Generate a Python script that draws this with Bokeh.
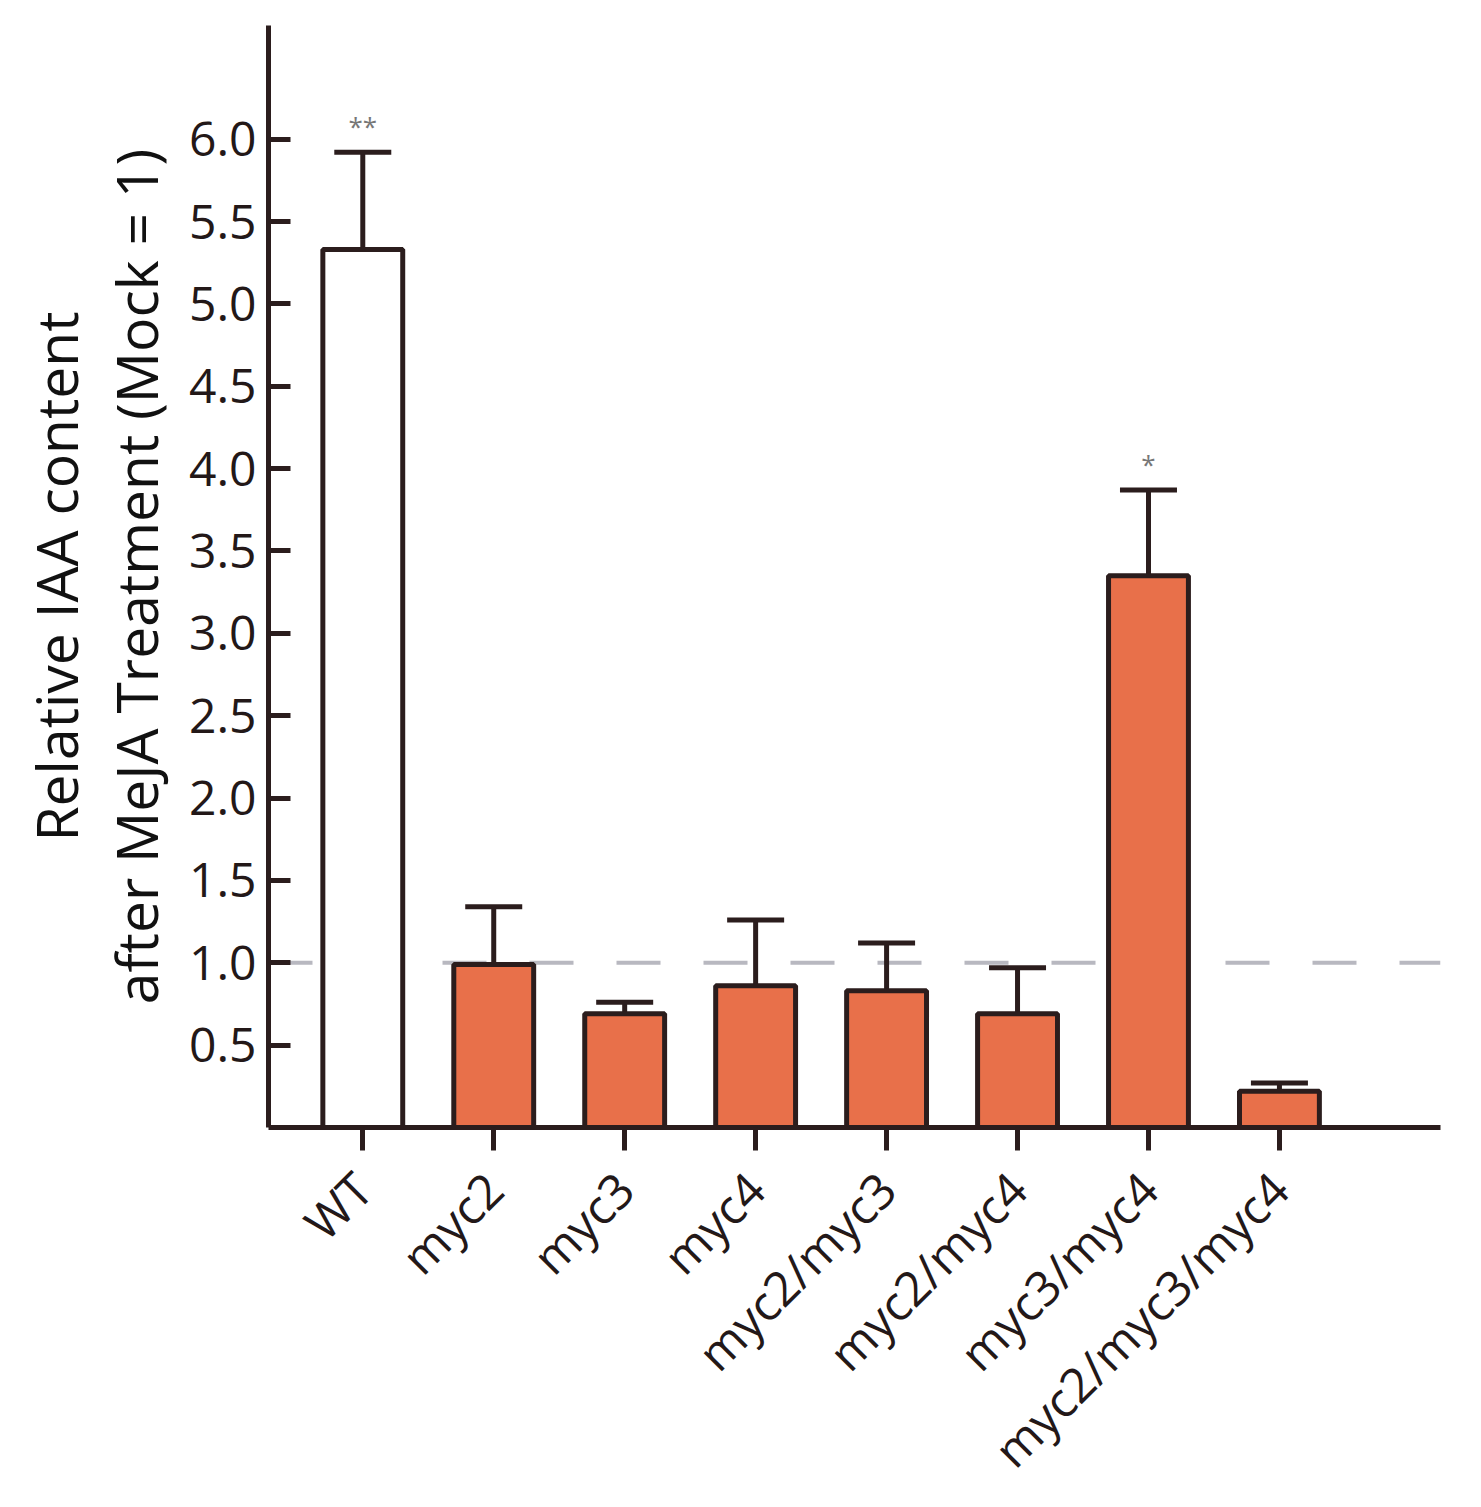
import math
from bokeh.plotting import figure
from bokeh.models import Range1d, FixedTicker, ColumnDataSource, Whisker, Span, TeeHead
from bokeh.core.properties import value
from bokeh.embed import file_html
from bokeh.resources import INLINE

categories = ["WT", "myc2", "myc3", "myc4", "myc2/myc3", "myc2/myc4", "myc3/myc4", "myc2/myc3/myc4"]
means = [5.33, 0.99, 0.69, 0.86, 0.83, 0.69, 3.35, 0.22]
err_upper = [5.92, 1.34, 0.76, 1.26, 1.12, 0.97, 3.87, 0.27]
signif = ["**", "", "", "", "", "", "*", ""]
fill_colors = ["#ffffff"] + ["#E8704A"] * 7
y_ticks = [0.5, 1.0, 1.5, 2.0, 2.5, 3.0, 3.5, 4.0, 4.5, 5.0, 5.5, 6.0]

FONT = "Open Sans"
DARK = "#2b1d1d"

xs = list(range(len(categories)))
src = ColumnDataSource(dict(x=xs, top=means, upper=err_upper, lower=means,
                            color=fill_colors, sig=signif, sig_y=[u + 0.05 for u in err_upper]))

p = figure(width=1481, height=1507, output_backend="svg", toolbar_location=None,
           x_range=Range1d(-0.72, 8.23), y_range=Range1d(0, 6.69),
           min_border_left=268, min_border_right=41, min_border_top=25, min_border_bottom=380)
p.outline_line_color = None
p.grid.grid_line_color = None
p.background_fill_color = "white"

p.add_layout(Span(location=1.0, dimension="width", line_color="#b8b8c0", line_width=4,
                  line_dash="44 43", level="underlay"))

p.vbar(x="x", top="top", width=0.61, bottom=0, source=src, fill_color="color",
       line_color=DARK, line_width=5)

w = Whisker(source=src, base="x", upper="upper", lower="lower", dimension="height",
            line_color=DARK, line_width=5, lower_head=None)
w.upper_head = TeeHead(size=57, line_color=DARK, line_width=5)
p.add_layout(w)

p.text(x="x", y="sig_y", text="sig", source=src, text_align="center", text_baseline="bottom",
       text_font=value(FONT), text_font_size="26px", text_color="#777777")

for ax in (p.xaxis[0], p.yaxis[0]):
    ax.axis_line_color = DARK
    ax.axis_line_width = 5
    ax.major_tick_line_color = DARK
    ax.major_tick_line_width = 5
    ax.minor_tick_line_color = None
    ax.major_label_text_font = FONT
    ax.major_label_text_font_size = "48px"
    ax.major_label_text_color = "#231818"

p.yaxis.ticker = FixedTicker(ticks=y_ticks)
p.yaxis.major_label_overrides = {t: f"{t:.1f}" for t in y_ticks}
p.yaxis.major_tick_in = 22
p.yaxis.major_tick_out = 0
p.yaxis.major_label_standoff = 12
p.yaxis.axis_label = "Relative IAA content\nafter MeJA Treatment (Mock = 1)"
p.yaxis.axis_label_text_font = FONT
p.yaxis.axis_label_text_font_size = "57px"
p.yaxis.axis_label_text_line_height = 1.03
p.yaxis.axis_label_text_font_style = "normal"
p.yaxis.axis_label_text_color = "#111111"
p.yaxis.axis_label_standoff = 11

p.xaxis.ticker = FixedTicker(ticks=xs)
p.xaxis.major_label_overrides = {i: c for i, c in enumerate(categories)}
p.xaxis.major_tick_in = 0
p.xaxis.major_tick_out = 23
p.xaxis.major_label_orientation = math.pi / 4
p.xaxis.major_label_text_baseline = "top"
p.xaxis.major_label_standoff = 30

open("out.html", "w").write(file_html(p, INLINE))
